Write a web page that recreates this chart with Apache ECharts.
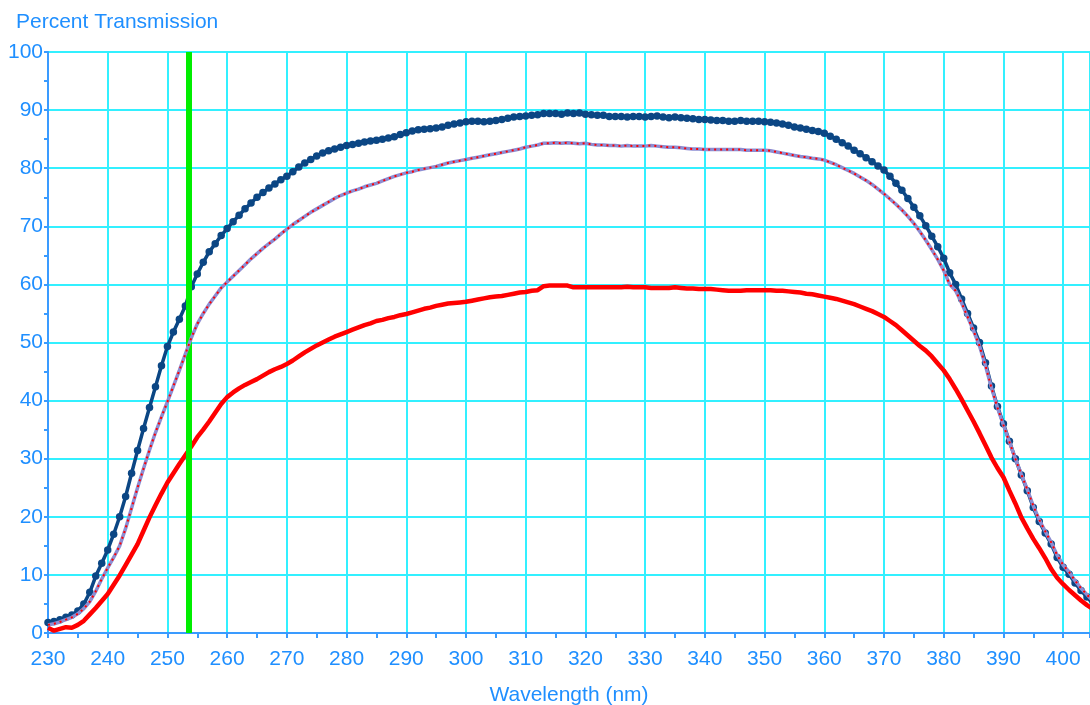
<!DOCTYPE html>
<html>
<head>
<meta charset="utf-8">
<script src="https://cdn.jsdelivr.net/npm/echarts@6/dist/echarts.min.js"></script>
<style>
html,body{margin:0;padding:0;background:#fff;}
#chart{width:1090px;height:705px;}
</style>
</head>
<body>
<div id="chart"></div>
<script>
// Wavelength sampling: 230 nm to 405 nm, 1 nm apart
const wlStart = 230;
const wlStep = 1;

// Top curve (navy, dotted markers)
const seriesTop = [
1.8,2.0,2.3,2.7,3.1,3.8,5.0,7.0,9.8,12.0,
14.3,17.0,20.0,23.5,27.5,31.4,35.2,38.8,42.4,46.0,
49.3,51.8,54.0,56.3,59.6,61.8,63.8,65.6,67.0,68.4,
69.6,70.8,71.9,73.0,74.0,75.0,75.8,76.6,77.3,78.0,
78.6,79.4,80.2,80.9,81.5,82.1,82.6,83.0,83.3,83.6,
83.9,84.1,84.3,84.5,84.7,84.8,85.0,85.2,85.4,85.8,
86.1,86.4,86.6,86.7,86.8,86.9,87.1,87.4,87.6,87.8,
88.0,88.1,88.1,88.0,88.1,88.2,88.4,88.6,88.8,88.9,
89.0,89.1,89.2,89.4,89.4,89.4,89.3,89.5,89.4,89.5,
89.3,89.2,89.1,89.1,88.9,88.9,88.9,88.8,88.9,88.9,
88.8,88.9,89.0,88.8,88.7,88.8,88.7,88.6,88.5,88.4,
88.4,88.3,88.2,88.2,88.1,88.1,88.2,88.1,88.1,88.1,
88.0,87.9,87.8,87.6,87.4,87.1,86.9,86.7,86.5,86.3,
86.0,85.5,85.0,84.4,83.8,83.1,82.5,81.8,81.1,80.4,
79.7,78.6,77.4,76.2,74.8,73.3,71.8,70.1,68.3,66.5,
64.5,62.0,60.0,57.5,55.0,52.5,50.0,46.5,42.5,39.0,
36.0,33.0,30.0,27.2,24.5,21.6,19.2,17.2,15.3,13.0,
11.3,10.1,8.6,7.3,6.2,5.0
];

// Middle curve (lavender line with red dots)
const seriesMid = [
1.4,1.6,1.9,2.3,2.7,3.3,4.2,5.4,7.2,9.3,
11.2,13.0,15.0,18.0,21.5,25.0,28.3,31.5,34.5,37.2,
39.8,42.5,45.2,48.0,50.8,53.2,55.0,56.6,58.0,59.4,
60.4,61.4,62.4,63.4,64.4,65.3,66.2,67.0,67.8,68.7,
69.5,70.3,71.0,71.7,72.4,73.0,73.6,74.2,74.8,75.3,
75.7,76.1,76.4,76.8,77.1,77.4,77.8,78.2,78.6,78.9,
79.2,79.4,79.7,79.9,80.1,80.3,80.6,80.9,81.1,81.3,
81.5,81.7,81.9,82.1,82.3,82.5,82.7,82.9,83.1,83.3,
83.6,83.8,84.0,84.3,84.3,84.4,84.3,84.4,84.3,84.2,
84.3,84.1,84.0,84.0,83.9,83.9,83.8,83.9,83.8,83.8,
83.8,83.9,83.8,83.7,83.6,83.6,83.5,83.4,83.3,83.3,
83.2,83.2,83.2,83.2,83.2,83.2,83.2,83.1,83.1,83.1,
83.1,83.0,82.8,82.6,82.4,82.2,82.0,81.9,81.7,81.6,
81.4,81.0,80.6,80.1,79.6,79.1,78.5,77.9,77.2,76.4,
75.6,74.7,73.8,72.8,71.7,70.5,69.1,67.6,66.0,64.3,
62.4,60.0,58.9,56.8,54.4,52.0,49.4,46.0,42.2,38.8,
35.8,32.9,30.0,27.3,24.7,21.9,19.5,17.5,15.6,13.4,
11.7,10.5,9.0,7.7,6.6,5.5
];

// Bottom curve (red)
const seriesLow = [
0.9,0.4,0.7,1.0,0.9,1.4,2.1,3.2,4.3,5.5,
6.7,8.3,9.9,11.7,13.5,15.3,17.6,19.9,22.0,24.0,
25.9,27.5,29.1,30.6,32.1,33.7,35.0,36.4,37.9,39.4,
40.6,41.4,42.1,42.7,43.2,43.7,44.3,44.9,45.4,45.8,
46.3,46.9,47.6,48.3,48.9,49.5,50.0,50.5,51.0,51.4,
51.8,52.2,52.6,53.0,53.3,53.7,53.9,54.2,54.4,54.7,
54.9,55.2,55.5,55.8,56.0,56.3,56.5,56.7,56.8,56.9,
57.0,57.2,57.4,57.6,57.8,57.9,58.0,58.2,58.4,58.6,
58.7,58.9,59.0,59.7,59.8,59.8,59.8,59.8,59.5,59.5,
59.5,59.5,59.5,59.5,59.5,59.5,59.5,59.6,59.5,59.5,
59.5,59.4,59.4,59.4,59.4,59.5,59.4,59.3,59.3,59.2,
59.2,59.2,59.1,59.0,58.9,58.9,58.9,59.0,59.0,59.0,
59.0,59.0,58.9,58.9,58.8,58.7,58.6,58.4,58.3,58.1,
57.9,57.7,57.5,57.2,56.9,56.6,56.2,55.8,55.4,54.9,
54.4,53.7,53.0,52.1,51.2,50.3,49.4,48.6,47.6,46.4,
45.2,43.7,42.0,40.2,38.3,36.4,34.4,32.3,30.2,28.4,
26.8,24.5,22.3,19.9,18.0,16.2,14.6,12.9,11.0,9.5,
8.4,7.4,6.5,5.6,4.8,4.1
];

// Marker line wavelength (Hg 253.7 nm)
const markerWavelength = 253.6;

const xMin = 230, xMax = 404.5, xInterval = 10;
const yMin = 0, yMax = 100, yInterval = 10;

function pairs(vals){ return vals.map((v,i)=>[wlStart + i*wlStep, v]); }

const blue = '#1f8fff';
const axisBlue = '#3a9bff';
const cyan = '#33f0ff';
const font = "'Liberation Sans', Arial, Helvetica, sans-serif";

const chart = echarts.init(document.getElementById('chart'), null, {renderer:'canvas'});
chart.setOption({
  animation:false,
  backgroundColor:'#ffffff',
  title:{
    text:'Percent Transmission',
    left:11, top:7,
    textStyle:{color:blue, fontSize:21, fontWeight:'normal', fontFamily:font}
  },
  grid:{left:48, right:0, top:52, bottom:72, containLabel:false, outerBoundsMode:'none'},
  xAxis:{
    type:'value', min:xMin, max:xMax, interval:xInterval,
    name:'Wavelength (nm)', nameLocation:'middle', nameGap:52,
    nameTextStyle:{color:blue, fontSize:21, fontFamily:font},
    axisLine:{show:true, onZero:false, lineStyle:{color:axisBlue, width:2}},
    axisTick:{show:true, length:5, lineStyle:{color:axisBlue, width:2}},
    minorTick:{show:true, splitNumber:2, length:5, lineStyle:{color:axisBlue, width:2}},
    axisLabel:{color:blue, fontSize:21, fontFamily:font, margin:16, showMaxLabel:false},
    splitLine:{show:true, lineStyle:{color:cyan, width:2}}
  },
  yAxis:{
    type:'value', min:yMin, max:yMax, interval:yInterval,
    axisLine:{show:true, lineStyle:{color:axisBlue, width:2}},
    axisTick:{show:true, length:4, lineStyle:{color:axisBlue, width:2}},
    minorTick:{show:true, splitNumber:2, length:4, lineStyle:{color:axisBlue, width:2}},
    axisLabel:{color:blue, fontSize:21, fontFamily:font, margin:5},
    splitLine:{show:true, lineStyle:{color:cyan, width:2}}
  },
  series:[
    {
      name:'low', type:'line', data:pairs(seriesLow), showSymbol:false,
      lineStyle:{color:'#ff0000', width:4.5}, z:3
    },
    {
      name:'top', type:'line', data:pairs(seriesTop),
      symbol:'circle', symbolSize:7.5, showAllSymbol:true,
      itemStyle:{color:'#0b4684'},
      lineStyle:{color:'#0b4684', width:3.5}, z:4
    },
    {
      name:'mid', type:'line', data:pairs(seriesMid), showSymbol:false,
      lineStyle:{color:'#8d8dd2', width:3.5}, z:5
    },
    {
      name:'midDots', type:'line', data:pairs(seriesMid), showSymbol:false,
      lineStyle:{color:'#ff0000', width:2, type:[2,4]}, z:6
    },
    {
      name:'marker', type:'line', data:[], z:10,
      markLine:{
        silent:true, symbol:['none','none'], animation:false,
        label:{show:false},
        lineStyle:{color:'#00ee00', width:6, type:'solid'},
        data:[{xAxis:markerWavelength}]
      }
    }
  ]
});
</script>
</body>
</html>
